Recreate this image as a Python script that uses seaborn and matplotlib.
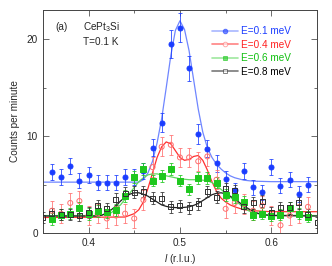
import numpy as np
import pandas as pd
import seaborn as sns
import matplotlib
matplotlib.use("Agg")
import matplotlib.pyplot as plt
from matplotlib.lines import Line2D

# measured points (l in r.l.u., counts per minute)
l_blue = [0.36, 0.37, 0.38, 0.39, 0.40, 0.41, 0.42, 0.43, 0.44, 0.45, 0.46, 0.47, 0.48, 0.49, 0.50,
          0.51, 0.52, 0.53, 0.54, 0.55, 0.56, 0.57, 0.58, 0.59, 0.60, 0.61, 0.62, 0.63, 0.64]
c_blue = [6.3, 5.8, 6.9, 5.4, 6.0, 5.2, 5.2, 5.2, 5.8, 5.8, 6.4, 8.8, 11.4, 19.5, 21.2,
          17.0, 10.2, 8.7, 7.2, 5.6, 4.4, 6.4, 4.7, 4.2, 6.8, 4.9, 5.5, 4.0, 5.0]
e_blue = [0.8, 0.8, 0.8, 0.8, 0.8, 0.8, 0.8, 0.8, 0.8, 0.8, 0.8, 0.9, 1.0, 1.4, 1.5,
          1.3, 1.0, 0.9, 0.9, 0.8, 0.8, 0.8, 0.8, 0.8, 0.8, 0.8, 0.8, 0.8, 0.8]

l_red = [0.36, 0.37, 0.38, 0.39, 0.40, 0.41, 0.42, 0.43, 0.44, 0.45, 0.46, 0.47, 0.48, 0.49, 0.50,
         0.51, 0.52, 0.53, 0.54, 0.55, 0.56, 0.57, 0.58, 0.59, 0.60, 0.61, 0.62, 0.63, 0.64]
c_red = [2.3, 2.0, 3.1, 3.3, 1.8, 2.0, 1.5, 1.8, 2.0, 1.5, 3.4, 6.8, 8.9, 9.1, 7.8,
         7.8, 7.4, 7.9, 5.5, 2.5, 3.1, 3.0, 2.3, 2.8, 1.8, 0.8, 1.8, 2.0, 2.7]
e_red = [1.0] * 29

l_green = [0.36, 0.37, 0.38, 0.39, 0.40, 0.41, 0.42, 0.43, 0.44, 0.45, 0.46, 0.47, 0.48, 0.49, 0.50,
           0.51, 0.52, 0.53, 0.54, 0.55, 0.56, 0.57, 0.58, 0.59, 0.60, 0.61, 0.62, 0.63, 0.64]
c_green = [1.45, 1.9, 2.0, 2.6, 1.95, 2.3, 2.2, 2.4, 3.85, 5.8, 6.6, 5.4, 5.9, 6.6, 5.4,
           4.5, 5.7, 5.7, 5.2, 3.9, 3.7, 3.2, 1.9, 2.0, 1.8, 1.9, 2.6, 2.0, 1.7]
e_green = [0.6] * 29

l_black = [0.35, 0.36, 0.37, 0.38, 0.39, 0.40, 0.41, 0.42, 0.43, 0.44, 0.45, 0.46, 0.47, 0.48, 0.49,
           0.50, 0.51, 0.52, 0.53, 0.54, 0.55, 0.56, 0.57, 0.58, 0.59, 0.60, 0.61, 0.62, 0.63, 0.64, 0.65]
c_black = [1.6, 2.0, 1.9, 1.9, 1.8, 2.1, 2.8, 2.5, 3.5, 4.1, 4.2, 4.3, 3.6, 3.6, 2.7,
           2.8, 2.6, 3.0, 4.3, 3.7, 4.6, 4.4, 2.7, 3.1, 3.3, 2.1, 2.6, 2.6, 3.1, 1.9, 1.1]
e_black = [0.6] * 31

# fitted curves
fit_l_blue = [0.35, 0.455, 0.46, 0.465, 0.47, 0.475, 0.48, 0.485, 0.49, 0.495, 0.50, 0.505, 0.51, 0.515,
              0.52, 0.525, 0.53, 0.535, 0.54, 0.545, 0.55, 0.555, 0.56, 0.57, 0.58, 0.60, 0.65]
fit_c_blue = [5.25, 5.25, 5.5, 6.2, 7.4, 9.3, 11.8, 15.0, 18.3, 20.9, 21.9, 21.0, 18.8, 15.8,
              12.8, 10.4, 8.8, 7.8, 7.1, 6.6, 6.2, 5.9, 5.7, 5.45, 5.35, 5.3, 5.3]

fit_l_red = [0.35, 0.44, 0.45, 0.455, 0.46, 0.465, 0.47, 0.475, 0.48, 0.485, 0.49, 0.495, 0.50, 0.505,
             0.51, 0.515, 0.52, 0.525, 0.53, 0.535, 0.54, 0.545, 0.55, 0.555, 0.56, 0.57, 0.58, 0.60, 0.65]
fit_c_red = [1.6, 1.65, 2.0, 2.4, 3.2, 4.6, 6.2, 7.8, 8.9, 9.4, 9.2, 8.5, 7.8, 7.5,
             7.6, 7.9, 8.0, 7.5, 6.5, 5.3, 4.3, 3.6, 3.2, 2.9, 2.7, 2.4, 2.3, 2.2, 2.2]

fit_l_green = [0.35, 0.41, 0.42, 0.425, 0.43, 0.435, 0.44, 0.445, 0.45, 0.455, 0.46, 0.465, 0.47, 0.475,
               0.48, 0.49, 0.50, 0.51, 0.52, 0.53, 0.535, 0.54, 0.545, 0.55, 0.555, 0.56, 0.565, 0.57,
               0.575, 0.58, 0.59, 0.60, 0.65]
fit_c_green = [1.8, 1.8, 1.95, 2.1, 2.5, 2.9, 3.5, 4.1, 4.7, 5.3, 5.7, 6.0, 6.1, 6.1,
               6.0, 5.8, 5.6, 5.5, 5.5, 5.4, 5.2, 4.9, 4.5, 4.1, 3.7, 3.3, 3.0, 2.6,
               2.3, 2.1, 1.9, 1.85, 1.8]

fit_l_black = [0.35, 0.41, 0.415, 0.42, 0.425, 0.43, 0.435, 0.44, 0.445, 0.45, 0.455, 0.46, 0.465, 0.47,
               0.475, 0.48, 0.485, 0.49, 0.50, 0.51, 0.515, 0.52, 0.525, 0.53, 0.535, 0.54, 0.545, 0.55,
               0.555, 0.56, 0.565, 0.57, 0.575, 0.58, 0.585, 0.59, 0.60, 0.65]
fit_c_black = [1.75, 1.75, 1.85, 2.1, 2.4, 2.8, 3.3, 3.7, 4.0, 4.15, 4.15, 4.0, 3.8, 3.5,
               3.2, 2.9, 2.75, 2.65, 2.6, 2.7, 2.85, 3.05, 3.35, 3.65, 3.95, 4.1, 4.15, 4.05,
               3.8, 3.5, 3.15, 2.8, 2.5, 2.25, 2.05, 1.9, 1.8, 1.75]

labels = ["E=0.1 meV", "E=0.4 meV", "E=0.6 meV", "E=0.8 meV"]

sns.set_style("ticks")
plt.rcParams['font.family'] = ['Liberation Sans', 'DejaVu Sans']
plt.rcParams['mathtext.fontset'] = 'custom'
plt.rcParams['mathtext.rm'] = 'Liberation Sans'
plt.rcParams['mathtext.it'] = 'Liberation Sans:italic'

fig = plt.figure(figsize=(3.32, 2.66), dpi=100)
ax = fig.add_axes([0.129, 0.124, 0.826, 0.838])

series = [
    # points, errors, fit, marker colour, line colour, marker, filled, text colour
    (l_blue, c_blue, e_blue, fit_l_blue, fit_c_blue, '#1a3cff', '#6f86ff', 'o', True, '#1a3cff'),
    (l_red, c_red, e_red, fit_l_red, fit_c_red, '#ff6f6f', '#ff3030', 'o', False, '#ff2020'),
    (l_green, c_green, e_green, fit_l_green, fit_c_green, '#1ec81e', '#5fd85f', 's', True, '#10c010'),
    (l_black, c_black, e_black, fit_l_black, fit_c_black, '#303030', '#202020', 's', False, '#000000'),
]

handles = []
for (lx, cy, err, fx, fy, mcol, lcol, mk, filled, tcol) in series:
    sns.lineplot(x=fx, y=fy, color=lcol, lw=0.9, ax=ax, zorder=2)
    ax.errorbar(lx, cy, yerr=err, fmt='none', ecolor=mcol, elinewidth=0.7,
                capsize=1.6, capthick=0.7, alpha=0.8, zorder=3)
    sns.scatterplot(x=lx, y=cy, marker=mk, s=13,
                    color=mcol if filled else 'none',
                    edgecolor=mcol, linewidth=0.7, ax=ax, zorder=4)
    handles.append(Line2D([], [], color=lcol, lw=1.2, alpha=0.6, marker=mk, markersize=3.3,
                          markerfacecolor=mcol if filled else 'white', markeredgecolor=mcol,
                          markeredgewidth=0.7))

leg = ax.legend(handles, labels, loc='upper right', bbox_to_anchor=(0.925, 0.955),
                frameon=False, fontsize=7.2, handlelength=2.6, handletextpad=0.3,
                labelspacing=0.35, borderaxespad=0.2)
for txt, s in zip(leg.get_texts(), series):
    txt.set_color(s[9])

ax.set_xlim(0.35, 0.65)
ax.set_ylim(0, 23)
ax.set_xticks([0.4, 0.5, 0.6])
ax.set_xticks([0.35, 0.45, 0.55, 0.65], minor=True)
ax.set_yticks([0, 10, 20])
ax.set_yticks([5, 15], minor=True)
ax.xaxis.set_major_formatter(matplotlib.ticker.FormatStrFormatter('%.1f'))
ax.tick_params(which='both', direction='in', top=True, right=True, labelsize=7.2,
               width=0.6, color='#555555')
ax.tick_params(which='major', length=4)
ax.tick_params(which='minor', length=2.5)
for sp in ax.spines.values():
    sp.set_linewidth(0.7)
    sp.set_color('#444444')

ax.set_xlabel(r'$l$ (r.l.u.)', fontsize=7.2, labelpad=3)
ax.set_ylabel('Counts per minute', fontsize=7.2, labelpad=5)

ax.text(0.045, 0.925, '(a)', transform=ax.transAxes, fontsize=7.2, va='center')
ax.text(0.145, 0.925, r'CePt$_3$Si', transform=ax.transAxes, fontsize=7.2, va='center')
ax.text(0.145, 0.855, 'T=0.1 K', transform=ax.transAxes, fontsize=7.2, va='center')

fig.savefig('out.png', dpi=100)
